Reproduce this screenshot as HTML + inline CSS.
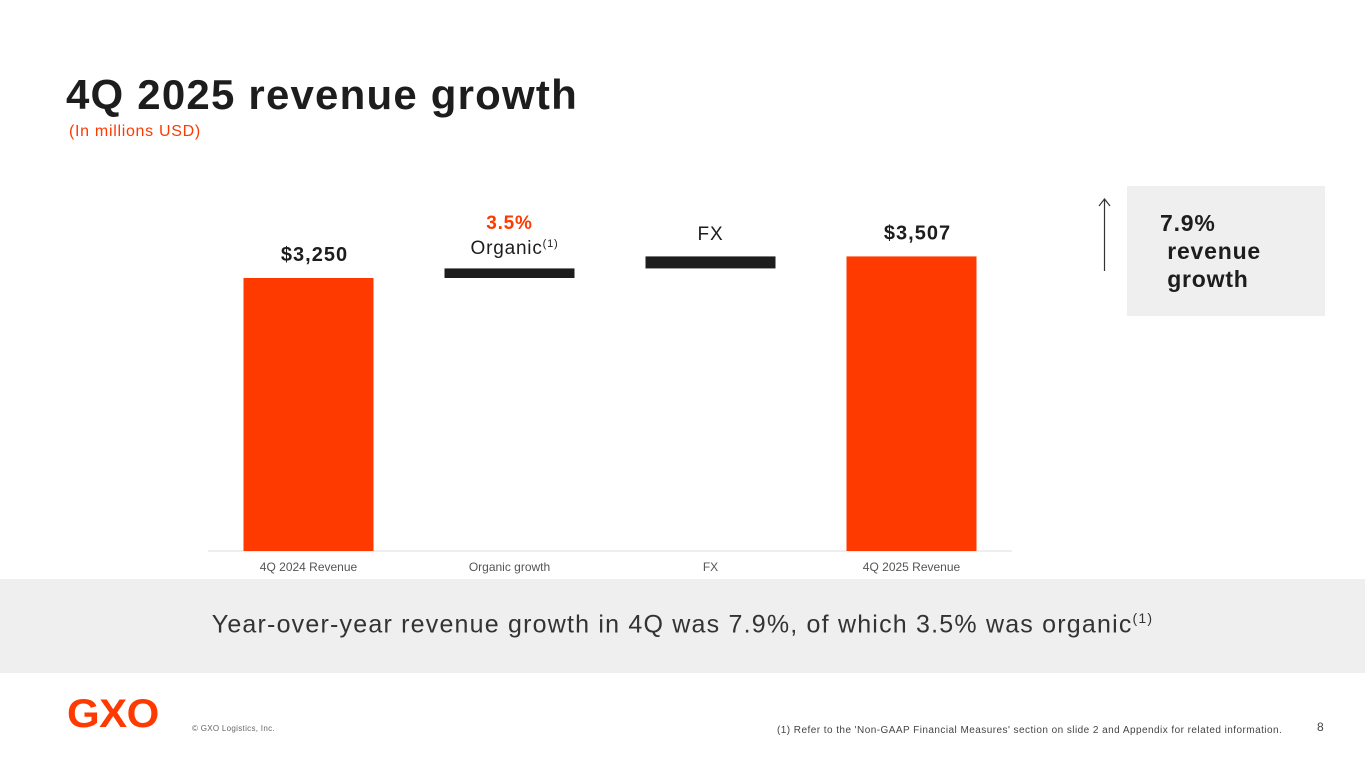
<!DOCTYPE html>
<html><head><meta charset="utf-8">
<style>
html,body{margin:0;padding:0;width:1365px;height:768px;overflow:hidden;background:#fff;font-family:"Liberation Sans",sans-serif;}
.abs{position:absolute;white-space:nowrap;}
</style></head>
<body>
<div class="abs" style="left:66px;top:71px;font-size:42px;font-weight:bold;color:#1d1d1d;letter-spacing:1.2px;">4Q 2025 revenue growth</div>
<div class="abs" style="left:69px;top:123px;font-size:16px;color:#ff3a00;letter-spacing:0.7px;">(In millions USD)</div>

<svg class="abs" style="left:0;top:0" width="1365" height="580" id="chart"></svg>

<svg class="abs" style="left:1096px;top:196px" width="18" height="78">
<line x1="8.5" y1="3" x2="8.5" y2="75" stroke="#333" stroke-width="1.2"/>
<polyline points="3,10 8.5,3 14,10" fill="none" stroke="#333" stroke-width="1.2"/>
</svg>
<div class="abs" style="left:1127px;top:186px;width:198px;height:130px;background:#efefef;"></div>
<div class="abs" style="left:1160px;top:209px;font-size:23px;font-weight:bold;color:#1d1d1d;line-height:28px;letter-spacing:0.8px;">7.9%<br>&nbsp;revenue<br>&nbsp;growth</div>

<div class="abs" style="left:0;top:579px;width:1365px;height:94px;background:#efefef;"></div>
<div class="abs" style="left:0;top:610px;width:1365px;text-align:center;font-size:25px;color:#333;letter-spacing:1.2px;">Year-over-year revenue growth in 4Q was 7.9%, of which 3.5% was organic<sup style="font-size:14px">(1)</sup></div>

<div class="abs" style="left:67px;top:692px;font-size:40px;font-weight:900;color:#ff3a00;letter-spacing:-0.5px;transform:scaleX(1.05);transform-origin:left;">GXO</div>
<div class="abs" style="left:192px;top:724px;font-size:8px;color:#666;letter-spacing:0.3px;">© GXO Logistics, Inc.</div>
<div class="abs" style="left:777px;top:725px;font-size:10px;color:#444;letter-spacing:0.45px;">(1) Refer to the 'Non-GAAP Financial Measures' section on slide 2 and Appendix for related information.</div>
<div class="abs" style="left:1317px;top:720px;font-size:12px;color:#444;">8</div>

<script>
const categories=["4Q 2024 Revenue","Organic growth","FX","4Q 2025 Revenue"];
const starts=[0,3250,3364,0];
const ends=[3250,3364,3507,3507];
const kinds=["total","delta","delta","total"];
const valueLabels=["$3,250","","","$3,507"];
const svg=document.getElementById('chart');
const NS="http://www.w3.org/2000/svg";
const baseY=551, scale=273/3250, x0=208, x1=1012;
const band=(x1-x0)/categories.length, barW=130;
function y(v){return baseY-v*scale;}
function xc(i){return x0+band*(i+0.5);}
function mk(t,attrs){const e=document.createElementNS(NS,t);for(const k in attrs)e.setAttribute(k,attrs[k]);svg.appendChild(e);return e;}
const ax=mk('line',{x1:x0,x2:x1,y1:baseY,y2:baseY,stroke:'#ddd','stroke-width':1});


categories.forEach((c,i)=>{
  const top=y(Math.max(starts[i],ends[i])),bot=y(Math.min(starts[i],ends[i]));
  const r=mk('rect',{x:xc(i)-barW/2,y:top,width:barW,height:bot-top,fill:kinds[i]==='total'?'#ff3a00':'#1d1d1d'});
  
  
  const t=mk('text',{x:xc(i),y:571,'text-anchor':'middle','font-size':12,fill:'#555','font-family':'Liberation Sans, sans-serif'});
  t.textContent=c;
  
  
  if(valueLabels[i]){
    const v=mk('text',{x:xc(i)+6,y:top-17,'text-anchor':'middle','font-size':20,'font-weight':'bold',fill:'#1d1d1d','letter-spacing':'1px','font-family':'Liberation Sans, sans-serif'});
    v.textContent=valueLabels[i];
    
    
  }
});
let a=mk('text',{x:xc(1),y:229,'text-anchor':'middle','font-size':19,'font-weight':'bold',fill:'#ff3a00','letter-spacing':'0.8px','font-family':'Liberation Sans, sans-serif'});
a.textContent="3.5%";


a=mk('text',{x:xc(1)+5,y:254,'text-anchor':'middle','font-size':19,fill:'#1d1d1d','letter-spacing':'0.8px','font-family':'Liberation Sans, sans-serif'});
a.innerHTML='Organic<tspan font-size="11" dy="-7">(1)</tspan>';


a=mk('text',{x:xc(2),y:240,'text-anchor':'middle','font-size':19,fill:'#1d1d1d','letter-spacing':'0.8px','font-family':'Liberation Sans, sans-serif'});
a.textContent="FX";


</script>
</body></html>
